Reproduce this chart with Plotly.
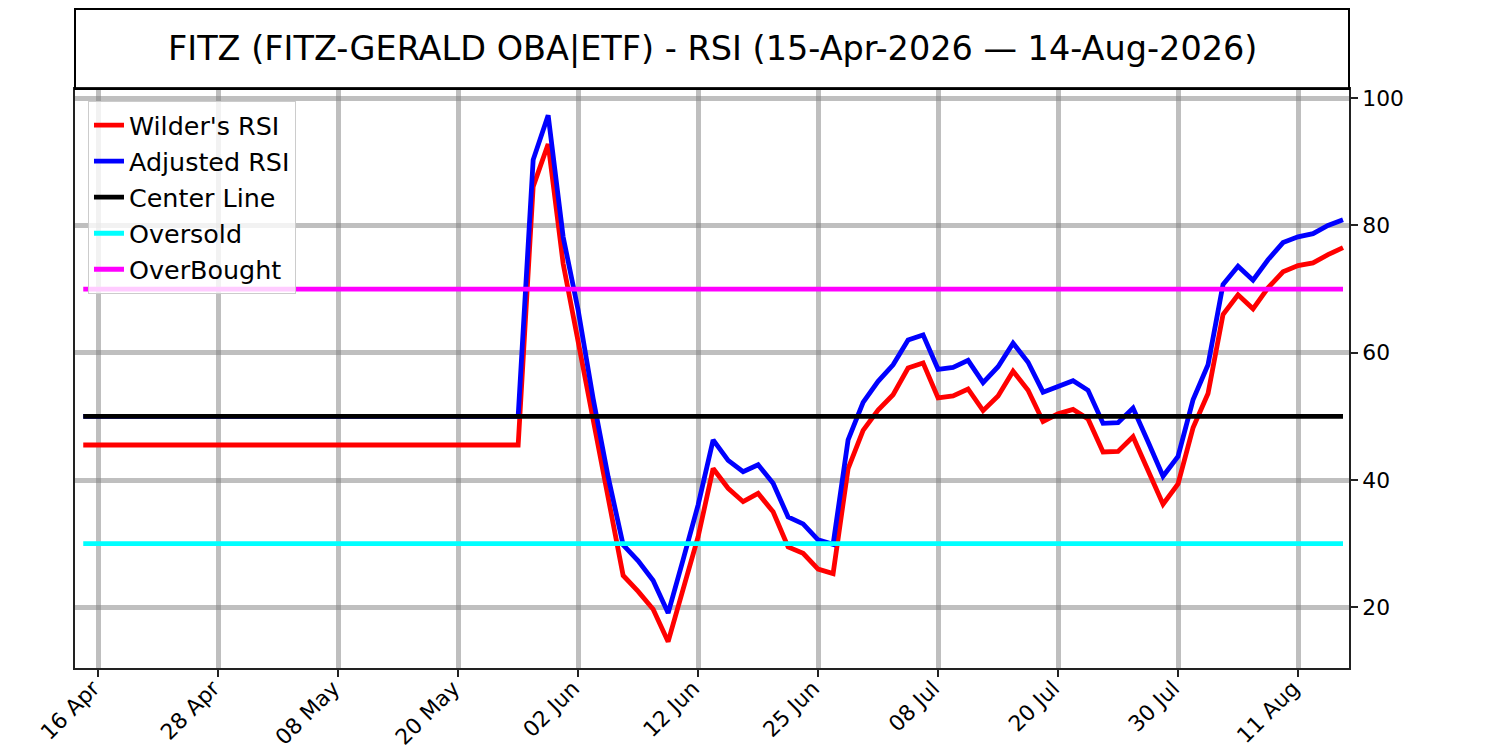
import pandas as pd
import plotly.graph_objects as go

# ---- data -------------------------------------------------------------
HOLIDAYS = ["2026-05-25", "2026-06-19", "2026-07-03"]
DATES = [d.strftime("%Y-%m-%d") for d in pd.bdate_range("2026-04-15", "2026-08-14", freq="C", holidays=HOLIDAYS)]

WILDER_RSI = [45.5] * 30 + [
    86.1, 92.8, 74.0, 61.6, 49.4, 37.0, 25.0, 22.5, 19.7, 14.6,
    23.0, 31.1, 41.8, 38.7, 36.6, 37.9, 35.0, 29.5, 28.5, 26.0,
    25.3, 41.8, 47.8, 51.0, 53.4, 57.6, 58.4, 52.9, 53.2, 54.3,
    50.9, 53.2, 57.1, 54.1, 49.2, 50.4, 51.1, 49.6, 44.4, 44.5,
    46.8, 41.6, 36.2, 39.4, 48.2, 53.6, 66.0, 69.1, 66.9, 70.2,
    72.7, 73.7, 74.1, 75.4, 76.5,
]
ADJUSTED_RSI = [50.0] * 30 + [
    90.3, 97.3, 78.2, 66.7, 52.8, 40.5, 29.8, 27.3, 24.2, 19.1,
    27.5, 36.1, 46.3, 43.1, 41.3, 42.4, 39.5, 34.2, 33.1, 30.6,
    29.9, 46.3, 52.2, 55.5, 58.1, 62.0, 62.8, 57.4, 57.7, 58.8,
    55.3, 57.8, 61.5, 58.5, 53.8, 54.8, 55.6, 54.1, 48.9, 49.0,
    51.3, 46.0, 40.6, 43.7, 52.6, 58.1, 70.7, 73.6, 71.4, 74.6,
    77.3, 78.2, 78.7, 80.0, 80.9,
]
CENTER_LEVEL = 50
OVERSOLD_LEVEL = 30
OVERBOUGHT_LEVEL = 70

TICK_DATES = ["2026-04-16", "2026-04-28", "2026-05-08", "2026-05-20", "2026-06-02",
              "2026-06-12", "2026-06-25", "2026-07-08", "2026-07-20", "2026-07-30",
              "2026-08-11"]
TICK_LABELS = ["16 Apr", "28 Apr", "08 May", "20 May", "02 Jun", "12 Jun",
               "25 Jun", "08 Jul", "20 Jul", "30 Jul", "11 Aug"]
Y_TICKS = [20, 40, 60, 80, 100]

TITLE = "FITZ (FITZ-GERALD OBA|ETF) - RSI (15-Apr-2026 \u2014 14-Aug-2026)"

# ---- figure -----------------------------------------------------------
FONT = "DejaVu Sans"
TICK_SIZE = 21.8
n = len(DATES)

fig = go.Figure()
series = [
    ("Wilder's RSI", WILDER_RSI, "#ff0000"),
    ("Adjusted RSI", ADJUSTED_RSI, "#0000ff"),
    ("Center Line", [CENTER_LEVEL] * n, "#000000"),
    ("Oversold", [OVERSOLD_LEVEL] * n, "#00ffff"),
    ("OverBought", [OVERBOUGHT_LEVEL] * n, "#ff00ff"),
]
for name, ys, col in series:
    fig.add_trace(go.Scatter(x=DATES, y=ys, mode="lines", name=name,
                             line=dict(color=col, width=4.8)))

W, H = 1500, 750
ml, mr, mt, mb = 75, 151, 89, 82
ph = H - mt - mb

fig.update_layout(
    width=W, height=H,
    margin=dict(l=ml, r=mr, t=mt, b=mb, pad=0, autoexpand=False),
    paper_bgcolor="white", plot_bgcolor="white",
    font=dict(family=FONT, size=TICK_SIZE, color="black"),
    showlegend=True,
    legend=dict(x=0.0102, y=0.979, xanchor="left", yanchor="top",
                bgcolor="rgba(255,255,255,0.8)", bordercolor="#cccccc", borderwidth=1,
                font=dict(family=FONT, size=25.4, color="black"),
                itemwidth=30, tracegroupgap=0),
    xaxis=dict(type="category", range=[-0.55, 84.4], automargin=False,
               tickmode="array", tickvals=TICK_DATES, ticktext=TICK_LABELS,
               tickangle=-45, ticks="outside", ticklen=7, tickwidth=1.5, tickcolor="#222222",
               ticklabelstandoff=-10, ticklabelshift=-5,
               showgrid=True, gridcolor="rgba(128,128,128,0.5)", gridwidth=4.6,
               showline=True, linecolor="#222222", linewidth=2, mirror=True,
               zeroline=False, tickfont=dict(size=TICK_SIZE)),
    yaxis=dict(side="right", range=[10.47, 101.43], tickmode="array", tickvals=Y_TICKS,
               automargin=False,
               ticks="outside", ticklen=7, tickwidth=1.5, tickcolor="#222222",
               showgrid=True, gridcolor="rgba(128,128,128,0.5)", gridwidth=4.6,
               showline=True, linecolor="#222222", linewidth=2, mirror=True,
               zeroline=False, tickfont=dict(size=TICK_SIZE)),
)

# title box above the plot area
fig.add_shape(type="rect", xref="paper", yref="paper",
              x0=0, x1=1, y0=1, y1=(H - mb - 9) / ph,
              line=dict(color="black", width=2), fillcolor="rgba(0,0,0,0)")
fig.add_annotation(xref="paper", yref="paper", x=0.5, y=(H - mb - 49) / ph,
                   xanchor="center", yanchor="middle", showarrow=False,
                   text=TITLE, font=dict(family=FONT, size=33.5, color="black"))

fig.write_html("out.html", config={"displayModeBar": False},
               post_script="document.body.style.margin='0px';document.body.style.overflow='hidden';")
